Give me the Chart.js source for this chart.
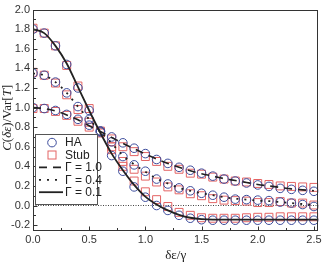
<!DOCTYPE html>
<html>
<head>
<meta charset="utf-8">
<script src="https://cdn.jsdelivr.net/npm/chart.js@4/dist/chart.umd.min.js"></script>
<style>
  html, body { margin: 0; padding: 0; background: #fff; }
  #wrap { width: 325px; height: 264px; position: relative; }
</style>
</head>
<body>
<div id="wrap"><canvas id="chart"></canvas></div>
<script>
// ── Data ──
const xs = [0, 0.1, 0.2, 0.3, 0.4, 0.5, 0.6, 0.7, 0.8, 0.9, 1.0, 1.1, 1.2,
            1.3, 1.4, 1.5, 1.6, 1.7, 1.8, 1.9, 2.0, 2.1, 2.2, 2.3, 2.4, 2.5];

// Gamma = 1.0
const ha10   = [1.00, 0.99, 0.97, 0.93, 0.88, 0.82, 0.76, 0.70, 0.64, 0.585, 0.53, 0.47, 0.43,
                0.39, 0.36, 0.33, 0.30, 0.27, 0.25, 0.23, 0.21, 0.195, 0.175, 0.165, 0.155, 0.145];
const stub10 = [0.99, 0.99, 0.96, 0.92, 0.86, 0.80, 0.75, 0.68, 0.60, 0.55, 0.50, 0.45, 0.40,
                0.37, 0.33, 0.32, 0.29, 0.27, 0.25, 0.24, 0.225, 0.215, 0.20, 0.195, 0.19, 0.185];
const line10 = [1.00, 0.99, 0.965, 0.925, 0.875, 0.815, 0.755, 0.695, 0.635, 0.58, 0.525, 0.475, 0.43,
                0.39, 0.355, 0.325, 0.30, 0.275, 0.255, 0.235, 0.215, 0.20, 0.185, 0.17, 0.16, 0.15];

// Gamma = 0.4
const ha04   = [1.35, 1.33, 1.26, 1.15, 1.01, 0.88, 0.76, 0.65, 0.50, 0.415, 0.35, 0.27, 0.22,
                0.18, 0.15, 0.125, 0.105, 0.085, 0.065, 0.06, 0.055, 0.05, 0.035, 0.025, 0.01, -0.01];
const stub04 = [1.36, 1.33, 1.25, 1.13, 0.98, 0.85, 0.74, 0.60, 0.45, 0.37, 0.30, 0.24, 0.19,
                0.16, 0.12, 0.10, 0.07, 0.055, 0.05, 0.045, 0.03, 0.03, 0.04, 0.025, 0.025, 0.005];
const line04 = [1.35, 1.33, 1.26, 1.15, 1.01, 0.88, 0.755, 0.635, 0.51, 0.42, 0.345, 0.275, 0.225,
                0.18, 0.15, 0.125, 0.105, 0.085, 0.07, 0.06, 0.05, 0.045, 0.035, 0.025, 0.015, 0.005];

// Gamma = 0.1
const ha01   = [1.80, 1.76, 1.63, 1.44, 1.20, 0.97, 0.75, 0.51, 0.35, 0.19, 0.085, 0.00, -0.05,
                -0.10, -0.13, -0.145, -0.15, -0.15, -0.15, -0.15, -0.15, -0.15, -0.15, -0.15, -0.15, -0.15];
const stub01 = [1.81, 1.76, 1.63, 1.43, 1.22, 0.99, 0.76, 0.57, 0.40, 0.25, 0.14, 0.06, -0.01,
                -0.07, -0.10, -0.125, -0.13, -0.13, -0.13, -0.125, -0.12, -0.12, -0.115, -0.115, -0.115, -0.115];
const line01 = [1.80, 1.76, 1.63, 1.45, 1.21, 0.97, 0.74, 0.53, 0.36, 0.21, 0.09, 0.01, -0.05,
                -0.095, -0.125, -0.14, -0.145, -0.145, -0.145, -0.145, -0.145, -0.145, -0.145, -0.145, -0.145, -0.145];
const line01EndX = 2.54, line01EndY = -0.145;

// Axes
const xMin = 0, xMax = 2.54, yMin = -0.25, yMax = 2.0;
const xTicks = [0, 0.5, 1.0, 1.5, 2.0, 2.5];
const xMinor = [0.25, 0.75, 1.25, 1.75, 2.25];
const yTicks = [-0.2, 0, 0.2, 0.4, 0.6, 0.8, 1.0, 1.2, 1.4, 1.6, 1.8, 2.0];
const yMinor = [-0.1, 0.1, 0.3, 0.5, 0.7, 0.9, 1.1, 1.3, 1.5, 1.7, 1.9];

const legendItems = [
  { label: 'HA',        kind: 'circle' },
  { label: 'Stub',      kind: 'rect' },
  { label: 'Γ = 1.0',   kind: 'line', dash: [8, 6], width: 1.6 },
  { label: 'Γ = 0.4',   kind: 'line', dash: [2, 6], width: 1.8 },
  { label: 'Γ = 0.1',   kind: 'line', dash: [],     width: 1.8 },
];

// ── Styles ──
const BLUE = '#3c4c9c';
const RED  = '#e46464';
const INK  = '#222';

const pts = arr => xs.map((x, i) => ({ x, y: arr[i] }));

function markerSet(arr, kind) {
  return {
    data: pts(arr),
    showLine: false,
    pointStyle: kind,
    pointRadius: kind === 'rect' ? 5.6 : 4.3,
    pointBorderColor: kind === 'rect' ? RED : BLUE,
    pointBackgroundColor: 'rgba(0,0,0,0)',
    pointBorderWidth: 1,
    order: kind === 'rect' ? 3 : 2,
  };
}
function lineSet(data, dash, width) {
  return {
    data,
    showLine: true,
    borderColor: INK,
    borderWidth: width,
    borderDash: dash,
    pointRadius: 0,
    cubicInterpolationMode: 'monotone',
    order: 1,
  };
}

// ── Decorations: frame, inward ticks, legend, titles ──
const decor = {
  id: 'decor',
  afterDatasetsDraw(chart) {
    const { ctx, chartArea: a, scales: { x, y } } = chart;
    ctx.save();

    // frame
    ctx.strokeStyle = '#333';
    ctx.lineWidth = 1;
    ctx.setLineDash([]);
    ctx.strokeRect(Math.round(a.left) + 0.5, Math.round(a.top) + 0.5,
                   Math.round(a.right - a.left) - 1, Math.round(a.bottom - a.top));

    // inward ticks (bottom and left only)
    ctx.beginPath();
    const b = Math.round(a.bottom) + 0.5, l = Math.round(a.left) + 0.5;
    xTicks.forEach(v => { const px = Math.round(x.getPixelForValue(v)) + 0.5; ctx.moveTo(px, b); ctx.lineTo(px, b - 4); });
    xMinor.forEach(v => { const px = Math.round(x.getPixelForValue(v)) + 0.5; ctx.moveTo(px, b); ctx.lineTo(px, b - 2.5); });
    yTicks.forEach(v => { const py = Math.round(y.getPixelForValue(v)) + 0.5; ctx.moveTo(l, py); ctx.lineTo(l + 4, py); });
    yMinor.forEach(v => { const py = Math.round(y.getPixelForValue(v)) + 0.5; ctx.moveTo(l, py); ctx.lineTo(l + 2.5, py); });
    ctx.stroke();

    // legend box
    const bx = a.left + 2, by = a.top + 124, bw = 62, bh = 70;
    ctx.fillStyle = '#fff';
    ctx.fillRect(bx, by, bw, bh);
    ctx.strokeStyle = '#555';
    ctx.strokeRect(Math.round(bx) + 0.5, Math.round(by) + 0.5, bw, bh);
    ctx.font = '12px "Liberation Sans", Arial, sans-serif';
    ctx.textBaseline = 'middle';
    ctx.textAlign = 'left';
    legendItems.forEach((it, i) => {
      const cy = by + 9 + i * 12.4;
      const sx = bx + 4, ex = bx + 28, mx = (sx + ex) / 2 + 1;
      if (it.kind === 'circle') {
        ctx.strokeStyle = BLUE; ctx.lineWidth = 1; ctx.setLineDash([]);
        ctx.beginPath(); ctx.arc(mx, cy, 4.3, 0, Math.PI * 2); ctx.stroke();
      } else if (it.kind === 'rect') {
        ctx.strokeStyle = RED; ctx.lineWidth = 1; ctx.setLineDash([]);
        ctx.strokeRect(mx - 4, cy - 4, 8, 8);
      } else {
        ctx.strokeStyle = INK; ctx.lineWidth = it.width; ctx.setLineDash(it.dash);
        ctx.beginPath(); ctx.moveTo(sx, cy); ctx.lineTo(ex, cy); ctx.stroke();
      }
      ctx.setLineDash([]);
      ctx.fillStyle = INK;
      ctx.fillText(it.label, bx + 30, cy + 0.5);
    });

    // x title
    ctx.font = '13px "Liberation Serif", "Times New Roman", serif';
    ctx.textAlign = 'center';
    ctx.textBaseline = 'middle';
    ctx.fillStyle = INK;
    ctx.fillText('δε/γ', (a.left + a.right) / 2, 256);

    // y title with mixed italic pieces
    const parts = [
      ['C', true], ['(', false], ['δε', true], [')/Var[', false], ['T', true], [']', false]
    ];
    const fontOf = it => (it ? 'italic ' : '') + '13px "Liberation Serif", "Times New Roman", serif';
    let total = 0;
    parts.forEach(([t, it]) => { ctx.font = fontOf(it); total += ctx.measureText(t).width; });
    ctx.translate(8, (a.top + a.bottom) / 2 - 2);
    ctx.rotate(-Math.PI / 2);
    ctx.textAlign = 'left';
    let cx = -total / 2;
    parts.forEach(([t, it]) => {
      ctx.font = fontOf(it);
      ctx.fillText(t, cx, 0);
      cx += ctx.measureText(t).width;
    });

    ctx.restore();
  }
};

new Chart(document.getElementById('chart'), {
  type: 'scatter',
  data: {
    datasets: [
      markerSet(stub10, 'rect'), markerSet(stub04, 'rect'), markerSet(stub01, 'rect'),
      markerSet(ha10, 'circle'), markerSet(ha04, 'circle'), markerSet(ha01, 'circle'),
      lineSet(pts(line10), [8, 6], 1.6),
      lineSet(pts(line04), [2, 6], 1.8),
      lineSet(pts(line01).concat([{ x: line01EndX, y: line01EndY }]), [], 1.8),
      { // dotted zero line
        data: [{ x: xMin, y: 0 }, { x: xMax, y: 0 }],
        showLine: true, borderColor: '#444', borderWidth: 1, borderDash: [1, 1.5],
        pointRadius: 0, order: 4,
      },
    ]
  },
  options: {
    responsive: true,
    maintainAspectRatio: false,
    animation: false,
    events: [],
    layout: { padding: { top: 9, right: 1, left: 0, bottom: 0 } },
    plugins: { legend: { display: false }, tooltip: { enabled: false } },
    scales: {
      x: {
        type: 'linear', min: xMin, max: xMax,
        grid: { display: false, drawTicks: false },
        border: { display: false },
        afterBuildTicks: s => { s.ticks = xTicks.map(v => ({ value: v })); },
        afterFit: s => { s.height = 34; },
        ticks: {
          padding: 3, color: '#333',
          font: { family: '"Liberation Sans", Arial, sans-serif', size: 11 },
          callback: v => v.toFixed(1),
          maxRotation: 0,
        }
      },
      y: {
        type: 'linear', min: yMin, max: yMax,
        grid: { display: false, drawTicks: false },
        border: { display: false },
        afterBuildTicks: s => { s.ticks = yTicks.map(v => ({ value: v })); },
        afterFit: s => { s.width = 33; },
        ticks: {
          padding: 3, color: '#333',
          font: { family: '"Liberation Sans", Arial, sans-serif', size: 11 },
          callback: v => v.toFixed(1),
        }
      }
    }
  },
  plugins: [decor]
});
</script>
</body>
</html>
